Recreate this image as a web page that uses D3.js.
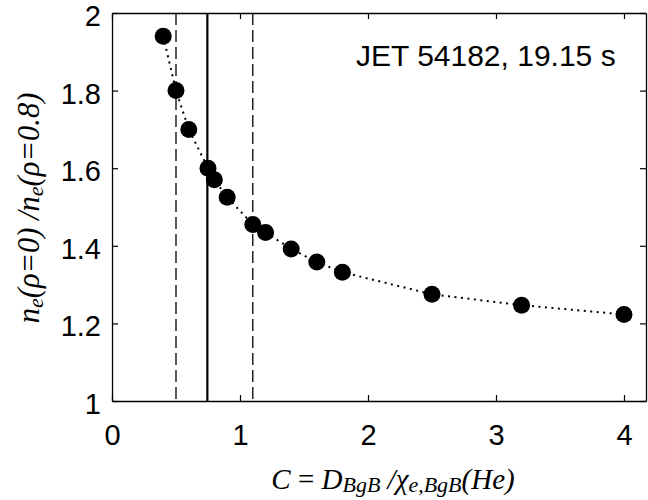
<!DOCTYPE html>
<html>
<head>
<meta charset="utf-8">
<script src="https://cdn.jsdelivr.net/npm/d3@7"></script>
<style>
  body { margin: 0; background: #fff; }
  svg { display: block; }
</style>
</head>
<body>
<svg id="chart" width="648" height="500"></svg>
<script>
// ---- data ----
const cValues = [0.4, 0.5, 0.6, 0.75, 0.8, 0.9, 1.1, 1.2, 1.4, 1.6, 1.8, 2.5, 3.2, 4.0];
const peakingRatio = [1.94, 1.80, 1.70, 1.60, 1.57, 1.525, 1.455, 1.434, 1.392, 1.358, 1.332, 1.275, 1.247, 1.223];
const dashedLinesX = [0.5, 1.1];
const solidLineX = [0.745];
const xTicks = [0, 1, 2, 3, 4];
const yTicks = [1, 1.2, 1.4, 1.6, 1.8, 2];
const yTickLabels = ["1", "1.2", "1.4", "1.6", "1.8", "2"];
const annotation = "JET 54182, 19.15 s";

// ---- layout ----
const pLeft = 112, pRight = 646, pTop = 13, pBottom = 401;
const svg = d3.select("#chart");
const x = d3.scaleLinear().domain([0, 4.172]).range([pLeft, pRight]);
const y = d3.scaleLinear().domain([1, 2]).range([pBottom, pTop]);

const tickFont = "Liberation Sans, Arial, Helvetica, sans-serif";

// vertical reference lines
svg.selectAll("line.dash").data(dashedLinesX).join("line")
  .attr("class", "dash")
  .attr("x1", d => x(d)).attr("x2", d => x(d))
  .attr("y1", pTop).attr("y2", pBottom)
  .attr("stroke", "#000").attr("stroke-width", 1.3)
  .attr("stroke-dasharray", "12,5");
svg.selectAll("line.solid").data(solidLineX).join("line")
  .attr("class", "solid")
  .attr("x1", d => x(d)).attr("x2", d => x(d))
  .attr("y1", pTop).attr("y2", pBottom)
  .attr("stroke", "#000").attr("stroke-width", 2.2);

// axes (inner ticks on all sides)
function styleAxis(g) {
  g.select(".domain").attr("stroke", "#000").attr("stroke-width", 1.3);
  g.selectAll(".tick line").attr("stroke", "#000").attr("stroke-width", 1.2);
  g.selectAll("text").attr("font-family", tickFont).attr("font-size", 29).attr("fill", "#000");
}
const xb = svg.append("g").attr("transform", `translate(0,${pBottom})`)
  .call(d3.axisBottom(x).tickValues(xTicks).tickFormat(d3.format("d")).tickSizeInner(-6).tickSizeOuter(0).tickPadding(23));
styleAxis(xb);
const xt = svg.append("g").attr("transform", `translate(0,${pTop})`)
  .call(d3.axisTop(x).tickValues(xTicks).tickFormat("").tickSizeInner(-6).tickSizeOuter(0));
styleAxis(xt);
const yl = svg.append("g").attr("transform", `translate(${pLeft},0)`)
  .call(d3.axisLeft(y).tickValues(yTicks).tickFormat((d, i) => yTickLabels[i]).tickSizeInner(-6).tickSizeOuter(0).tickPadding(11));
styleAxis(yl);
yl.selectAll("text").attr("dy", "0.43em");
const yr = svg.append("g").attr("transform", `translate(${pRight},0)`)
  .call(d3.axisRight(y).tickValues(yTicks).tickFormat("").tickSizeInner(-6).tickSizeOuter(0));
styleAxis(yr);

// dotted connecting line
const pts = cValues.map((c, i) => [c, peakingRatio[i]]);
svg.append("path").datum(pts)
  .attr("d", d3.line().x(d => x(d[0])).y(d => y(d[1])))
  .attr("fill", "none").attr("stroke", "#000").attr("stroke-width", 2)
  .attr("stroke-dasharray", "2,4.5");

// markers
svg.selectAll("circle.pt").data(pts).join("circle")
  .attr("class", "pt")
  .attr("cx", d => x(d[0])).attr("cy", d => y(d[1]))
  .attr("r", 8.5).attr("fill", "#000");

// annotation
svg.append("text").attr("x", 356).attr("y", 66)
  .attr("font-family", tickFont).attr("font-size", 30).attr("fill", "#000")
  .text(annotation);

// x label
const serif = "Liberation Serif, Times New Roman, serif";
const xl = svg.append("text").attr("x", 393).attr("y", 489)
  .attr("text-anchor", "middle").attr("font-family", serif).attr("font-style", "italic")
  .attr("font-size", 29).attr("fill", "#000");
xl.append("tspan").text("C");
xl.append("tspan").attr("font-style", "normal").text(" = ");
xl.append("tspan").text("D");
xl.append("tspan").attr("font-size", 22).attr("dy", 3).text("BgB");
xl.append("tspan").attr("dy", -3).text(" /");
xl.append("tspan").text("χ");
xl.append("tspan").attr("font-size", 22).attr("dy", 3).text("e,BgB");
xl.append("tspan").attr("dy", -3).text("(He)");

// y label
const ylab = svg.append("text")
  .attr("transform", `translate(39,208) rotate(-90)`)
  .attr("text-anchor", "middle").attr("font-family", serif).attr("font-style", "italic")
  .attr("font-size", 30.5).attr("fill", "#000");
ylab.append("tspan").text("n");
ylab.append("tspan").attr("font-size", 22).attr("dy", 4).text("e");
ylab.append("tspan").attr("dy", -4).text("(ρ=0) /n");
ylab.append("tspan").attr("font-size", 22).attr("dy", 4).text("e");
ylab.append("tspan").attr("dy", -4).text("(ρ=0.8)");
</script>
</body>
</html>
